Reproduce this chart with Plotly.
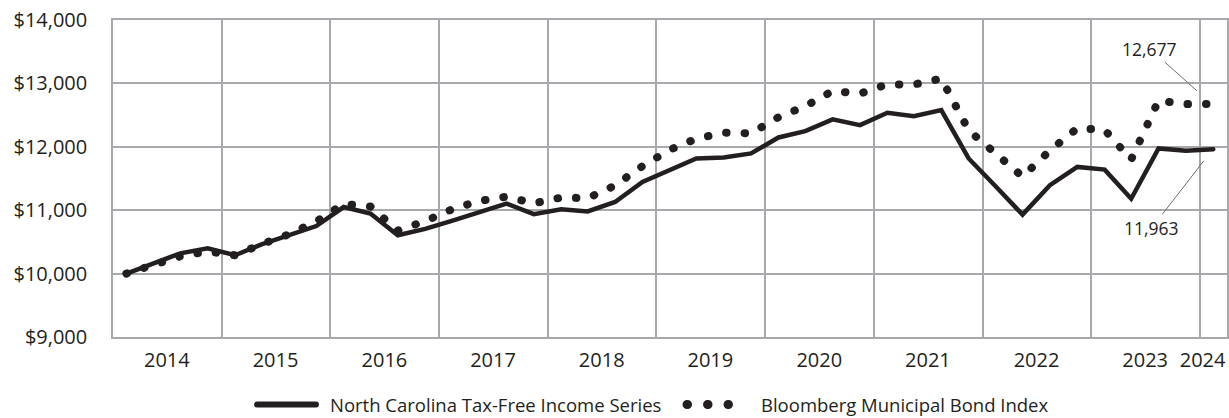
import plotly.graph_objects as go
import pandas as pd

# ---- data ----
years = ["2014", "2015", "2016", "2017", "2018", "2019", "2020", "2021", "2022", "2023", "2024"]
series_names = ["North Carolina Tax-Free Income Series", "Bloomberg Municipal Bond Index"]
fund_values = [10000, 10160, 10320, 10400, 10290, 10460, 10610, 10750, 11050, 10947,
               10605, 10705, 10837, 10968, 11105, 10937, 11015, 10980, 11130, 11447,
               11642, 11816, 11832, 11895, 12147, 12247, 12432, 12342, 12536, 12484,
               12579, 11816, 11370, 10930, 11394, 11683, 11640, 11181, 11974, 11936,
               11963]
index_values = [10000, 10144, 10273, 10349, 10289, 10464, 10620, 10821, 11097, 11058,
                10679, 10829, 11017, 11146, 11213, 11110, 11200, 11190, 11391, 11696,
                11953, 12128, 12223, 12211, 12467, 12641, 12880, 12839, 12986, 12982,
                13077, 12260, 11900, 11530, 11941, 12292, 12266, 11800, 12729, 12673,
                12677]
y_ticks = [9000, 10000, 11000, 12000, 13000, 14000]
end_labels = ["12,677", "11,963"]

# quarterly observation dates
dates = pd.date_range("2014-02-01", periods=len(fund_values), freq="3MS") + pd.Timedelta(days=14)
tick_pos = [f"{y}-07-01" for y in years[:-1]] + ["2024-01-10"]

INK = "#231f20"
GRID = "#a7a9ac"
LEAD = "#6d6e71"
FONT = "Open Sans, Noto Sans, sans-serif"

fig = go.Figure()
fig.add_trace(go.Scatter(
    x=dates, y=index_values, mode="lines", name=series_names[1],
    line=dict(color=INK, width=8, dash="0.5px,18px"), hoverinfo="skip"))
fig.add_trace(go.Scatter(
    x=dates, y=fund_values, mode="lines", name=series_names[0],
    line=dict(color=INK, width=4.5), hoverinfo="skip"))

fig.update_layout(
    width=1229, height=418,
    margin=dict(l=113, r=2, t=20, b=81.3, autoexpand=False),
    paper_bgcolor="white", plot_bgcolor="white",
    showlegend=False, hovermode=False,
    font=dict(family=FONT, color=INK, size=20),
)
fig.update_xaxes(
    type="date", range=["2014-01-01", "2024-04-01"],
    tickmode="array", tickvals=tick_pos, ticktext=years,
    showgrid=False, ticks="", ticklabelstandoff=4,
    minor=dict(dtick="M12", tick0="2014-01-01", showgrid=True,
               gridcolor=GRID, gridwidth=1.5),
    showline=True, mirror=True, linecolor=GRID, linewidth=1.5,
    zeroline=False, tickfont=dict(size=20, color=INK), automargin=False,
)
fig.update_yaxes(
    range=[9000, 14000], tickmode="array", tickvals=y_ticks,
    ticktext=[f"${v:,}" for v in y_ticks],
    showgrid=True, gridcolor=GRID, gridwidth=1.5,
    showline=True, mirror=True, linecolor=GRID, linewidth=1.5,
    zeroline=False, ticks="", ticklabelstandoff=20,
    tickfont=dict(size=20, color=INK), automargin=False,
)

# end-value callouts
fig.add_annotation(x="2023-12-22", y=12883, text=end_labels[0], showarrow=True,
                   arrowhead=0, arrowwidth=1, arrowcolor=LEAD, ax=-47, ay=-42,
                   font=dict(size=17.5, color=INK))
fig.add_annotation(x="2024-01-14", y=11778, text=end_labels[1], showarrow=True,
                   arrowhead=0, arrowwidth=1, arrowcolor=LEAD, ax=-52, ay=67,
                   font=dict(size=17.5, color=INK))

# custom legend
leg_y = -0.213
fig.add_shape(type="line", xref="paper", yref="paper", x0=0.1293, x1=0.1822,
              y0=leg_y, y1=leg_y, line=dict(color=INK, width=6))
fig.add_shape(type="line", xref="paper", yref="paper", x0=0.5153, x1=0.5525,
              y0=leg_y, y1=leg_y, line=dict(color=INK, width=9, dash="0.5px,20px"))
fig.add_annotation(x=0.1939, y=leg_y, xref="paper", yref="paper", xanchor="left",
                   yanchor="middle", text=series_names[0], showarrow=False,
                   font=dict(size=18.5, color=INK), borderpad=0)
fig.add_annotation(x=0.5808, y=leg_y, xref="paper", yref="paper", xanchor="left",
                   yanchor="middle", text=series_names[1], showarrow=False,
                   font=dict(size=18.5, color=INK), borderpad=0)

css = ("var s=document.createElement('style');"
       "s.textContent='html,body{margin:0;padding:0;overflow:hidden;}"
       ".js-line, .shapelayer path{stroke-linecap:round;}';"
       "document.head.appendChild(s);")
fig.write_html("out.html", post_script=css, config={"displayModeBar": False})
